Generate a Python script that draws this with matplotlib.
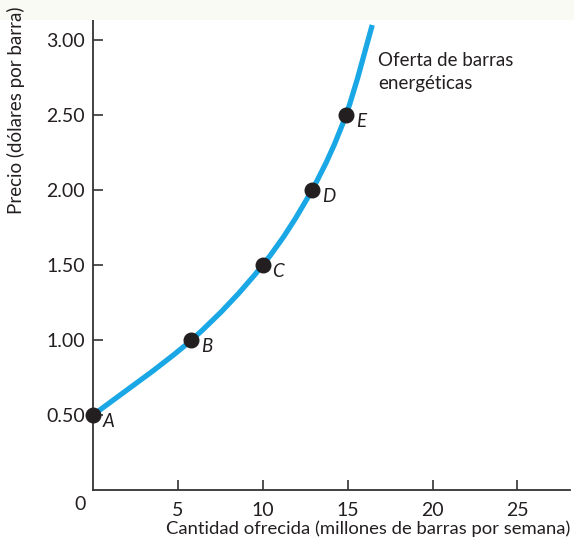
import matplotlib
matplotlib.use("Agg")
import matplotlib.pyplot as plt
from matplotlib.path import Path
from matplotlib.patches import PathPatch, Rectangle
import numpy as np

# Data (supply schedule)
labels = ["A", "B", "C", "D", "E"]
quantity = [0, 5.8, 10, 12.9, 14.9]     # millions of bars per week
price = [0.50, 1.00, 1.50, 2.00, 2.50]  # dollars per bar
# curve extends beyond E to the top end
curve_end_q = 16.45
curve_end_p = 3.10
xticks = [5, 10, 15, 20, 25]
yticks = [0.5, 1.0, 1.5, 2.0, 2.5, 3.0]
ytick_labels = ["0.50", "1.00", "1.50", "2.00", "2.50", "3.00"]

W, H = 574, 542
fig = plt.figure(figsize=(W / 100, H / 100), dpi=100)
fig.patch.set_facecolor("white")
fig.patches.append(Rectangle((0, 1 - 20 / H), 1, 20 / H, transform=fig.transFigure,
                             facecolor="#fafaf4", edgecolor="none", zorder=0))

ax = fig.add_axes([93 / W, (H - 490) / H, (570 - 93) / W, (490 - 10) / H])
ax.set_facecolor("none")
ax.set_xlim(0, 28.1)
ax.set_ylim(0, 3.2)

font = "Lato"
txtcol = "#231f20"
fs = 13.5

# smooth curve through the points (Catmull-Rom -> cubic Bezier)
cq = quantity + [curve_end_q]
cp = price + [curve_end_p]
pts = list(zip(cq, cp))
sx = 1 / 28.1 * 477
sy = 1 / 3.2 * 480
P = [np.array([q * sx, p * sy]) for q, p in pts]
verts = [pts[0]]
codes = [Path.MOVETO]
for i in range(len(P) - 1):
    p0 = P[i - 1] if i > 0 else P[i]
    p1 = P[i]
    p2 = P[i + 1]
    p3 = P[i + 2] if i + 2 < len(P) else P[i + 1]
    c1 = p1 + (p2 - p0) / 6
    c2 = p2 - (p3 - p1) / 6
    for c in (c1, c2, p2):
        verts.append((c[0] / sx, c[1] / sy))
        codes.append(Path.CURVE4)
patch = PathPatch(Path(verts, codes), facecolor="none", edgecolor="#1aa7e5",
                  lw=3.8, capstyle="butt", zorder=2)
ax.add_patch(patch)

ax.plot(quantity, price, "o", color="#231f20", markersize=10.5, zorder=3, clip_on=False)
for lab, q, p in zip(labels, quantity, price):
    ax.annotate(lab, (q, p), xytext=(7, -5), textcoords="offset points",
                fontsize=fs, style="italic", color=txtcol, family=font,
                ha="left", va="center")

ax.text(16.8, 2.92, "Oferta de barras\nenergéticas", fontsize=fs, color=txtcol,
        family=font, ha="left", va="top", linespacing=1.4)

for s in ("top", "right"):
    ax.spines[s].set_visible(False)
for s in ("left", "bottom"):
    ax.spines[s].set_color("#333333")
    ax.spines[s].set_linewidth(1.3)

ax.set_xticks(xticks)
ax.set_xticklabels([str(t) for t in xticks])
ax.set_yticks(yticks)
ax.set_yticklabels(ytick_labels)
ax.tick_params(direction="in", length=7, width=1.2, color="#333333",
               labelsize=14, labelcolor=txtcol)
ax.tick_params(axis="x", pad=9)
ax.tick_params(axis="y", pad=6)
for lbl in ax.get_xticklabels() + ax.get_yticklabels():
    lbl.set_family(font)

fig.text(80 / W, 1 - 505 / H, "0", fontsize=14, color=txtcol, family=font,
         ha="center", va="center")
fig.text(570 / W, 1 - 529 / H, "Cantidad ofrecida (millones de barras por semana)",
         fontsize=13.3, color=txtcol, family=font, ha="right", va="center")
fig.text(16 / W, 1 - 6 / H, "Precio (dólares por barra)", fontsize=fs, color=txtcol,
         family=font, ha="center", va="top", rotation=90)

fig.savefig("out.png", dpi=100)
